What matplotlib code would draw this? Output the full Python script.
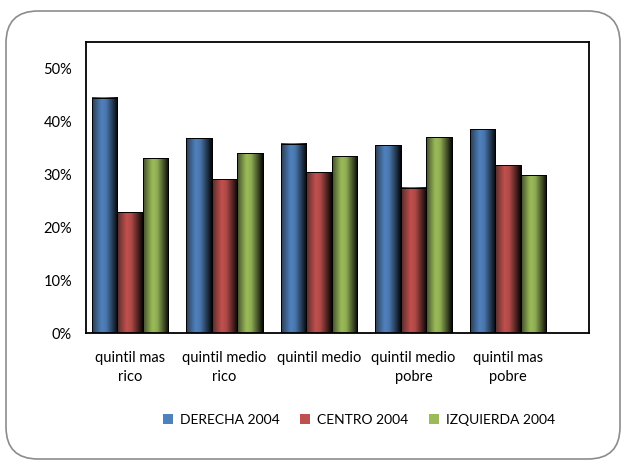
import numpy as np
import matplotlib.pyplot as plt
from matplotlib.patches import FancyBboxPatch, Patch
from matplotlib.colors import to_rgb

plt.rcParams['font.family'] = ['Lato', 'DejaVu Sans']

categorias = ["quintil mas\nrico", "quintil medio\nrico", "quintil medio",
              "quintil medio\npobre", "quintil mas\npobre"]
derecha = [44.5, 36.8, 35.8, 35.5, 38.5]
centro = [22.8, 29.1, 30.4, 27.5, 31.7]
izquierda = [33.0, 34.0, 33.4, 37.0, 29.8]

series = ["DERECHA 2004", "CENTRO 2004", "IZQUIERDA 2004"]
colores = ["#4F81BD", "#C0504D", "#9BBB59"]

fig = plt.figure(figsize=(6.21, 4.62), dpi=100)

# marco redondeado exterior
marco = FancyBboxPatch((0.06, 0.03), 6.14, 4.48,
                       boxstyle="round,pad=0,rounding_size=0.32",
                       transform=fig.dpi_scale_trans, fill=False,
                       edgecolor="#8c8c8c", linewidth=1.2)
fig.patches.append(marco)

ax = fig.add_axes([0.1385, 0.279, 0.81, 0.630])

x = np.arange(len(categorias))
ancho = 0.27


def sombreado(base, n=64):
    # efecto cilindro: gris oscuro a la izquierda, color hacia el 40%, negro a la derecha
    t = np.linspace(0, 1, n)
    f = np.interp(t, [0, 0.15, 0.38, 0.55, 0.8, 1.0], [0.55, 0.75, 1.0, 0.92, 0.45, 0.05])
    gris = np.interp(t, [0, 0.3, 1.0], [0.45, 0.0, 0.0])
    c = np.array(to_rgb(base))
    g = np.full(3, 0.33)
    img = (c[None, :] * (1 - gris[:, None]) + g[None, :] * gris[:, None]) * f[:, None]
    return np.clip(img[None, :, :], 0, 1)


for i, (vals, col) in enumerate(zip([derecha, centro, izquierda], colores)):
    barras = ax.bar(x + (i - 1) * ancho, vals, ancho, color=col,
                    edgecolor="black", linewidth=0.7, zorder=2)
    for b in barras:
        x0, y0 = b.get_x(), b.get_y()
        ax.imshow(sombreado(col), extent=(x0, x0 + b.get_width(), y0, y0 + b.get_height()),
                  aspect="auto", interpolation="bilinear", zorder=2.5)
        ax.add_patch(plt.Rectangle((x0, y0), b.get_width(), b.get_height(),
                                   fill=False, edgecolor="black", linewidth=0.7, zorder=3))

ax.set_xlim(-0.465, 4.856)
ax.set_ylim(0, 55)
ax.set_yticks(range(0, 51, 10))
ax.set_yticklabels([f"{v}%" for v in range(0, 51, 10)], fontsize=10.5)
ax.set_xticks(x)
ax.set_xticklabels(categorias, fontsize=10.5, linespacing=1.45)
ax.tick_params(axis="both", length=0)
ax.tick_params(axis="y", pad=10)
ax.tick_params(axis="x", pad=13)
for s in ax.spines.values():
    s.set_linewidth(1.3)
    s.set_color("black")

handles = [Patch(facecolor=c) for c in colores]
fig.legend(handles, series, loc="center", bbox_to_anchor=(359 / 621, 1 - 420 / 462),
           ncol=3, frameon=False, fontsize=10, handlelength=0.7, handleheight=0.7,
           handletextpad=0.5, columnspacing=1.5)

fig.savefig("out.png", dpi=100, facecolor="white")
